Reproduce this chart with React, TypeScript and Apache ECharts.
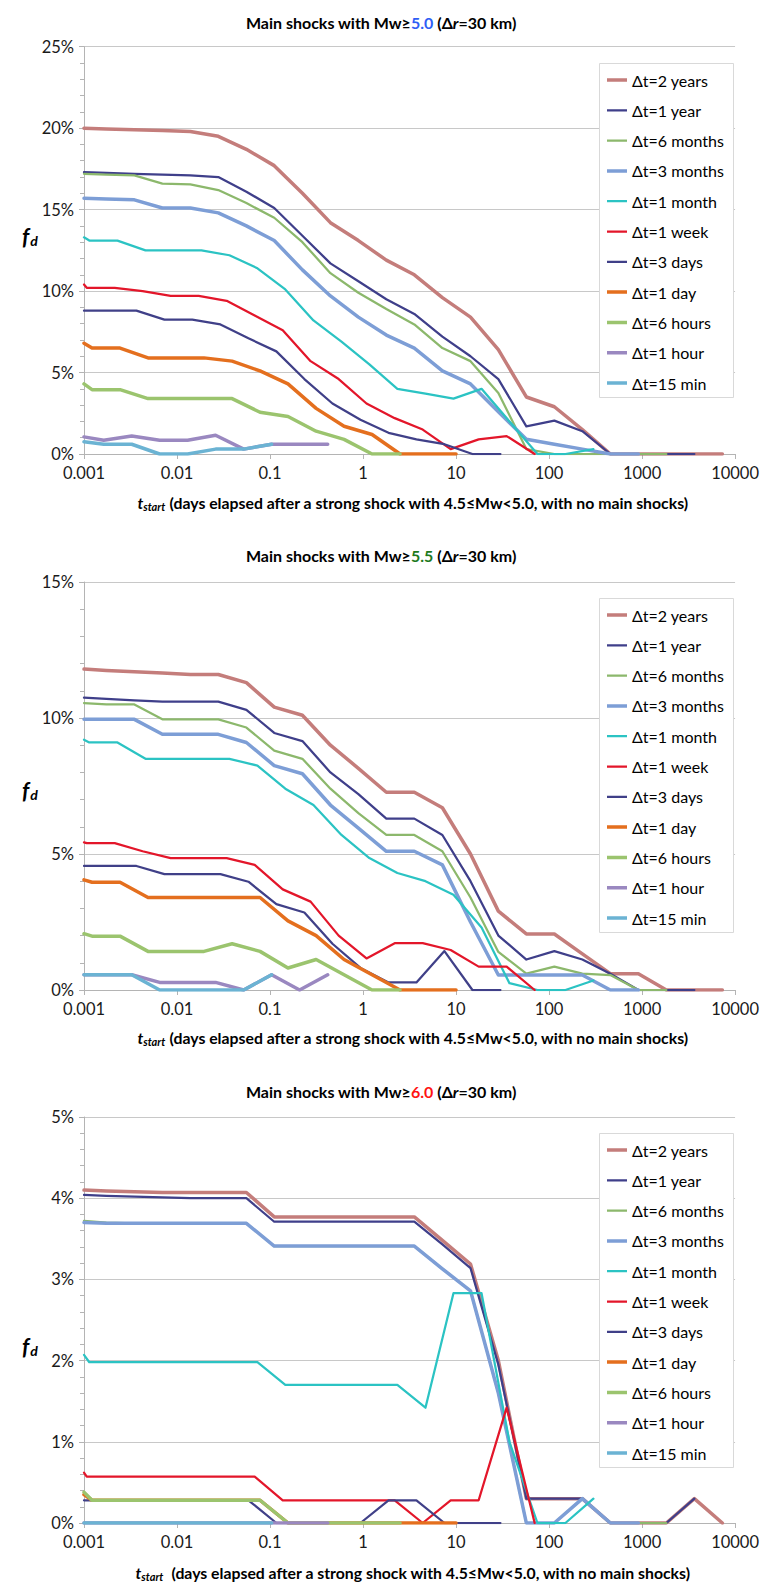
import React, { useEffect, useRef } from "react";
import * as echarts from "echarts";

const FONT = "Lato, 'Noto Sans', 'DejaVu Sans', sans-serif";

const SERIES_NAMES = [
  "Δt=2 years", "Δt=1 year", "Δt=6 months", "Δt=3 months", "Δt=1 month",
  "Δt=1 week", "Δt=3 days", "Δt=1 day", "Δt=6 hours", "Δt=1 hour", "Δt=15 min",
];
const SERIES_COLORS = [
  "#C47D7B", "#3F3F8A", "#8CB86C", "#7D9ED6", "#2BC3C3",
  "#E3162A", "#404088", "#E46F1E", "#9BC46E", "#9A88C0", "#6BB3D3",
];
const SERIES_WIDTHS = [3.5, 2.25, 2.25, 3.5, 2.25, 2.25, 2.25, 3.5, 3.5, 3.5, 3.5];

const X_TICK_LABELS = ["0.001", "0.01", "0.1", "1", "10", "100", "1000", "10000"];

// t_start sampling (days) for each Δt
const T_LONG = [0.001, 0.00174, 0.00348, 0.00696, 0.0139, 0.0278, 0.0557, 0.111, 0.223, 0.446, 0.891, 1.78, 3.56, 7.13, 14.3, 28.5, 57, 114, 228, 456, 913, 1825, 3650, 7300];
const T_1M = [0.001, 0.00114, 0.00229, 0.00458, 0.00916, 0.0183, 0.0366, 0.0732, 0.146, 0.293, 0.586, 1.17, 2.34, 4.69, 9.38, 18.8, 37.5, 75, 150, 300];
const T_1W = [0.001, 0.00107, 0.00214, 0.00427, 0.00854, 0.0171, 0.0342, 0.0684, 0.137, 0.273, 0.547, 1.09, 2.19, 4.38, 8.75, 17.5, 35, 70];
const T_3D = [0.001, 0.00183, 0.00366, 0.00732, 0.0146, 0.0293, 0.0586, 0.117, 0.234, 0.469, 0.938, 1.88, 3.75, 7.5, 15, 30];
const T_1D = [0.001, 0.00122, 0.00244, 0.00488, 0.00977, 0.0195, 0.0391, 0.0781, 0.156, 0.313, 0.625, 1.25, 2.5, 5, 10];
const T_6H = [0.001, 0.00122, 0.00244, 0.00488, 0.00977, 0.0195, 0.0391, 0.0781, 0.156, 0.313, 0.625, 1.25, 2.5];
const T_1H = [0.001, 0.00163, 0.00326, 0.00651, 0.013, 0.026, 0.0521, 0.104, 0.208, 0.417];
const T_15M = [0.001, 0.00163, 0.00326, 0.00651, 0.013, 0.026, 0.0521, 0.104];
const T_BY_SERIES = [T_LONG, T_LONG, T_LONG, T_LONG, T_1M, T_1W, T_3D, T_1D, T_6H, T_1H, T_15M];

// Panel 1: Mw>=5.0 (values in %)
const P1_2Y = [20.0, 19.95, 19.9, 19.85, 19.8, 19.5, 18.7, 17.7, 16.0, 14.2, 13.1, 11.9, 11.0, 9.6, 8.4, 6.4, 3.5, 2.9, 1.5, 0, 0, 0, 0, 0];
const P1_1Y = [17.3, 17.25, 17.2, 17.15, 17.1, 17.0, 16.1, 15.1, 13.4, 11.7, 10.6, 9.5, 8.6, 7.2, 6.0, 4.6, 1.7, 2.05, 1.4, 0, 0, 0, 0];
const P1_6M = [17.2, 17.15, 17.1, 16.6, 16.55, 16.2, 15.4, 14.5, 13.0, 11.1, 9.9, 8.9, 7.95, 6.5, 5.7, 3.75, 0.3, 0, 0, 0, 0, 0];
const P1_3M = [15.7, 15.65, 15.6, 15.1, 15.1, 14.8, 14.0, 13.1, 11.3, 9.7, 8.4, 7.3, 6.5, 5.1, 4.3, 2.6, 0.9, 0.6, 0.3, 0, 0];
const P1_1M = [13.3, 13.1, 13.1, 12.5, 12.5, 12.5, 12.2, 11.4, 10.1, 8.2, 6.9, 5.5, 4.0, 3.7, 3.4, 4.0, 2.0, 0, 0, 0.3];
const P1_1W = [10.4, 10.2, 10.2, 10.0, 9.7, 9.7, 9.4, 8.5, 7.6, 5.7, 4.6, 3.1, 2.2, 1.5, 0.3, 0.9, 1.1, 0];
const P1_3D = [8.8, 8.8, 8.8, 8.25, 8.25, 7.95, 7.1, 6.3, 4.6, 3.1, 2.1, 1.3, 0.9, 0.6, 0, 0];
const P1_1D = [6.8, 6.5, 6.5, 5.9, 5.9, 5.9, 5.7, 5.1, 4.3, 2.8, 1.7, 1.2, 0, 0, 0];
const P1_6H = [4.3, 3.95, 3.95, 3.4, 3.4, 3.4, 3.4, 2.56, 2.3, 1.4, 0.9, 0, 0];
const P1_1H = [1.05, 0.85, 1.1, 0.85, 0.85, 1.15, 0.3, 0.6, 0.6, 0.6];
const P1_15M = [0.75, 0.6, 0.6, 0, 0, 0.3, 0.3, 0.6];

// Panel 2: Mw>=5.5
const P2_2Y = [11.8, 11.75, 11.7, 11.65, 11.6, 11.6, 11.3, 10.4, 10.1, 9.0, 8.15, 7.27, 7.27, 6.7, 5.0, 2.9, 2.06, 2.06, 1.33, 0.6, 0.6, 0, 0, 0];
const P2_1Y = [10.75, 10.7, 10.65, 10.6, 10.6, 10.6, 10.3, 9.45, 9.15, 8.0, 7.2, 6.3, 6.3, 5.7, 4.0, 2.0, 1.12, 1.43, 1.12, 0.6, 0, 0, 0];
const P2_6M = [10.55, 10.5, 10.5, 9.95, 9.95, 9.95, 9.65, 8.8, 8.5, 7.4, 6.5, 5.7, 5.7, 5.1, 3.4, 1.4, 0.6, 0.86, 0.6, 0.55, 0, 0];
const P2_3M = [9.95, 9.95, 9.95, 9.4, 9.4, 9.4, 9.1, 8.25, 7.95, 6.8, 5.95, 5.1, 5.1, 4.6, 2.5, 0.55, 0.55, 0.55, 0.55, 0, 0];
const P2_1M = [9.2, 9.1, 9.1, 8.5, 8.5, 8.5, 8.5, 8.25, 7.4, 6.8, 5.7, 4.85, 4.3, 4.0, 3.5, 2.3, 0.25, 0, 0, 0.35];
const P2_1W = [5.43, 5.4, 5.4, 5.1, 4.85, 4.85, 4.85, 4.6, 3.7, 3.25, 2.0, 1.16, 1.72, 1.72, 1.47, 0.86, 0.86, 0];
const P2_3D = [4.56, 4.56, 4.56, 4.26, 4.26, 4.26, 3.98, 3.16, 2.85, 1.7, 0.81, 0.28, 0.28, 1.43, 0, 0];
const P2_1D = [4.05, 3.96, 3.96, 3.4, 3.4, 3.4, 3.4, 3.4, 2.54, 2.0, 1.12, 0.56, 0, 0, 0];
const P2_6H = [2.07, 1.98, 1.98, 1.42, 1.42, 1.42, 1.7, 1.42, 0.81, 1.12, 0.56, 0, 0];
const P2_1H = [0.56, 0.56, 0.56, 0.28, 0.28, 0.28, 0, 0.56, 0, 0.56];
const P2_15M = [0.56, 0.56, 0.56, 0, 0, 0, 0, 0.56];

// Panel 3: Mw>=6.0
const P3_2Y = [4.1, 4.09, 4.08, 4.07, 4.07, 4.07, 4.07, 3.77, 3.77, 3.77, 3.77, 3.77, 3.77, 3.48, 3.19, 2.0, 0.3, 0.3, 0.3, 0, 0, 0, 0.3, 0];
const P3_1Y = [4.04, 4.03, 4.02, 4.01, 4.0, 4.0, 4.0, 3.71, 3.71, 3.71, 3.71, 3.71, 3.71, 3.43, 3.14, 1.95, 0.3, 0.3, 0.3, 0, 0, 0, 0.3];
const P3_6M = [3.72, 3.7, 3.69, 3.69, 3.69, 3.69, 3.69, 3.41, 3.41, 3.41, 3.41, 3.41, 3.41, 3.13, 2.86, 1.6, 0, 0, 0.3, 0, 0, 0];
const P3_3M = [3.7, 3.69, 3.69, 3.69, 3.69, 3.69, 3.69, 3.41, 3.41, 3.41, 3.41, 3.41, 3.41, 3.13, 2.86, 1.6, 0, 0, 0.3, 0, 0];
const P3_1M = [2.07, 1.98, 1.98, 1.98, 1.98, 1.98, 1.98, 1.98, 1.7, 1.7, 1.7, 1.7, 1.7, 1.42, 2.83, 2.83, 1.0, 0, 0, 0.3];
const P3_1W = [0.62, 0.57, 0.57, 0.57, 0.57, 0.57, 0.57, 0.57, 0.28, 0.28, 0.28, 0.28, 0.28, 0, 0.28, 0.28, 1.42, 0];
const P3_3D = [0.28, 0.28, 0.28, 0.28, 0.28, 0.28, 0.28, 0, 0, 0, 0, 0.28, 0.28, 0, 0, 0];
const P3_1D = [0.35, 0.28, 0.28, 0.28, 0.28, 0.28, 0.28, 0.28, 0, 0, 0, 0, 0, 0, 0];
const P3_6H = [0.38, 0.28, 0.28, 0.28, 0.28, 0.28, 0.28, 0.28, 0, 0, 0, 0, 0];
const P3_1H = [0, 0, 0, 0, 0, 0, 0, 0, 0, 0];
const P3_15M = [0, 0, 0, 0, 0, 0, 0, 0];

const PANEL_VALUES = [
  [P1_2Y, P1_1Y, P1_6M, P1_3M, P1_1M, P1_1W, P1_3D, P1_1D, P1_6H, P1_1H, P1_15M],
  [P2_2Y, P2_1Y, P2_6M, P2_3M, P2_1M, P2_1W, P2_3D, P2_1D, P2_6H, P2_1H, P2_15M],
  [P3_2Y, P3_1Y, P3_6M, P3_3M, P3_1M, P3_1W, P3_3D, P3_1D, P3_6H, P3_1H, P3_15M],
];

const PANEL_MAGS = ["5.0", "5.5", "6.0"];
const PANEL_MAG_COLORS = ["#2F5EF5", "#1E7A1E", "#FF1414"];
const Y_MAX = [25, 15, 5];
const Y_INTERVAL = [5, 5, 1];

// layout
const PLOT_TOP = [46.7, 582, 1117];
const PLOT_H = [407.3, 408, 406];
const PLOT_LEFT = 84;
const PLOT_W = 655;
const TITLE_TOP = [9, 542, 1078];
const AXIS_TITLE_Y = [502, 1037, 1572];
const FD_Y = [236, 790, 1346];
const LEGEND_BOX_TOP = [63, 598, 1133];
const X_TITLE_SPACES = [" ", " ", "  "];

// legend line icon: bounding box 20x16 with a centred bar of the series' width
function legendIconPath(w: number) {
  const y0 = 8 - w / 2;
  return `path://M0,0h0.01v0.01h-0.01Z M20,16h-0.01v-0.01h0.01Z M0,${y0}h20v${w}h-20Z`;
}

function buildOption() {
  const gridColor = "#c8c8c8";
  const axisColor = "#b4b4b4";
  const titles = PANEL_MAGS.map((m, p) => ({
    text: `Main shocks with Mw≥{m|${m}} (Δ{i|r}=30 km)`,
    left: "center",
    top: TITLE_TOP[p],
    textStyle: {
      fontSize: 16,
      fontWeight: "bold",
      fontFamily: FONT,
      color: "#000",
      rich: {
        m: { fontSize: 16, fontWeight: "bold", fontFamily: FONT, color: PANEL_MAG_COLORS[p] },
        i: { fontSize: 16, fontWeight: "bold", fontStyle: "italic", fontFamily: FONT, color: "#000" },
      },
    },
  }));

  const grids = PLOT_TOP.map((t, p) => ({
    left: PLOT_LEFT, top: t, width: PLOT_W, height: PLOT_H[p], containLabel: false,
  }));

  const xAxes = PLOT_TOP.map((_, p) => ({
    type: "log",
    logBase: 10,
    gridIndex: p,
    min: 0.001,
    max: 10000,
    axisLine: { show: true, lineStyle: { color: axisColor, width: 1 } },
    axisTick: { show: true, length: 5, lineStyle: { color: axisColor } },
    minorTick: { show: false },
    splitLine: { show: false },
    axisLabel: {
      margin: 10,
      fontSize: 16.5,
      fontFamily: FONT,
      color: "#1a1a1a",
      formatter: (v: number) => X_TICK_LABELS[Math.round(Math.log10(v)) + 3] ?? "",
    },
  }));

  const yAxes = PLOT_TOP.map((_, p) => ({
    type: "value",
    gridIndex: p,
    min: 0,
    max: Y_MAX[p],
    interval: Y_INTERVAL[p],
    axisLine: { show: true, lineStyle: { color: axisColor, width: 1 } },
    axisTick: { show: true, length: 5, lineStyle: { color: axisColor } },
    minorTick: { show: true, splitNumber: 5, length: 4, lineStyle: { color: axisColor } },
    splitLine: { show: true, lineStyle: { color: gridColor, width: 1 } },
    axisLabel: {
      margin: 10,
      fontSize: 16.5,
      fontFamily: FONT,
      color: "#1a1a1a",
      formatter: "{value}%",
    },
  }));

  const legendData = SERIES_NAMES.map((n, s) => ({ name: n, icon: legendIconPath(SERIES_WIDTHS[s]) }));
  const legends = LEGEND_BOX_TOP.map((t) => ({
    orient: "vertical",
    left: 607,
    top: t + 9,
    padding: 0,
    itemGap: 14.3,
    itemWidth: 20,
    itemHeight: 16,
    selectedMode: false,
    z: 20,
    data: legendData,
    textStyle: { fontSize: 16, fontFamily: FONT, color: "#000", lineHeight: 16 },
  }));

  const series: any[] = [];
  PANEL_VALUES.forEach((panel, p) => {
    panel.forEach((vals, s) => {
      const ts = T_BY_SERIES[s];
      series.push({
        type: "line",
        name: SERIES_NAMES[s],
        xAxisIndex: p,
        yAxisIndex: p,
        data: vals.map((v, i) => [ts[i], v]),
        symbol: "none",
        silent: true,
        lineStyle: { color: SERIES_COLORS[s], width: SERIES_WIDTHS[s], join: "round", cap: "round" },
        itemStyle: { color: SERIES_COLORS[s] },
      });
    });
  });

  const graphic: any[] = [];
  PLOT_TOP.forEach((_, p) => {
    graphic.push({
      type: "rect",
      z: 10,
      shape: { x: 599.5, y: LEGEND_BOX_TOP[p] + 0.5, width: 134, height: 334 },
      style: { fill: "#fff", stroke: "#d9d9d9", lineWidth: 1 },
      silent: true,
    });
    graphic.push({
      type: "text",
      z: 10,
      x: 413,
      y: AXIS_TITLE_Y[p],
      style: {
        text: `{t|t}{s|start}{n|${X_TITLE_SPACES[p]}(days elapsed after a strong shock with 4.5≤Mw<5.0, with no main shocks)}`,
        align: "center",
        verticalAlign: "middle",
        rich: {
          t: { fontSize: 15.8, fontWeight: "bold", fontStyle: "italic", fontFamily: FONT, fill: "#000", lineHeight: 20, verticalAlign: "middle" },
          s: { fontSize: 11, fontWeight: "bold", fontStyle: "italic", fontFamily: FONT, fill: "#000", lineHeight: 20, padding: [8, 0, 0, 0], verticalAlign: "middle" },
          n: { fontSize: 15.8, fontWeight: "bold", fontFamily: FONT, fill: "#000", lineHeight: 20, verticalAlign: "middle" },
        },
      },
      silent: true,
    });
    graphic.push({
      type: "text",
      z: 10,
      x: 22,
      y: FD_Y[p],
      style: {
        text: "{f|f}{d|d}",
        align: "left",
        verticalAlign: "middle",
        rich: {
          f: { fontSize: 22, fontWeight: "bold", fontStyle: "italic", fontFamily: FONT, fill: "#000", lineHeight: 24, verticalAlign: "middle" },
          d: { fontSize: 14, fontWeight: "bold", fontStyle: "italic", fontFamily: FONT, fill: "#000", lineHeight: 24, padding: [9, 0, 0, 1], verticalAlign: "middle" },
        },
      },
      silent: true,
    });
  });

  return {
    animation: false,
    backgroundColor: "#ffffff",
    title: titles,
    grid: grids,
    xAxis: xAxes,
    yAxis: yAxes,
    legend: legends,
    graphic,
    series,
  };
}

export default function App() {
  const ref = useRef<HTMLDivElement>(null);
  useEffect(() => {
    document.body.style.margin = "0";
    if (!ref.current) return;
    const chart = echarts.init(ref.current, undefined, { renderer: "svg" });
    chart.setOption(buildOption() as any);
    return () => chart.dispose();
  }, []);
  return <div ref={ref} style={{ width: 762, height: 1583, position: "absolute", left: 0, top: 0, background: "#fff" }} />;
}
